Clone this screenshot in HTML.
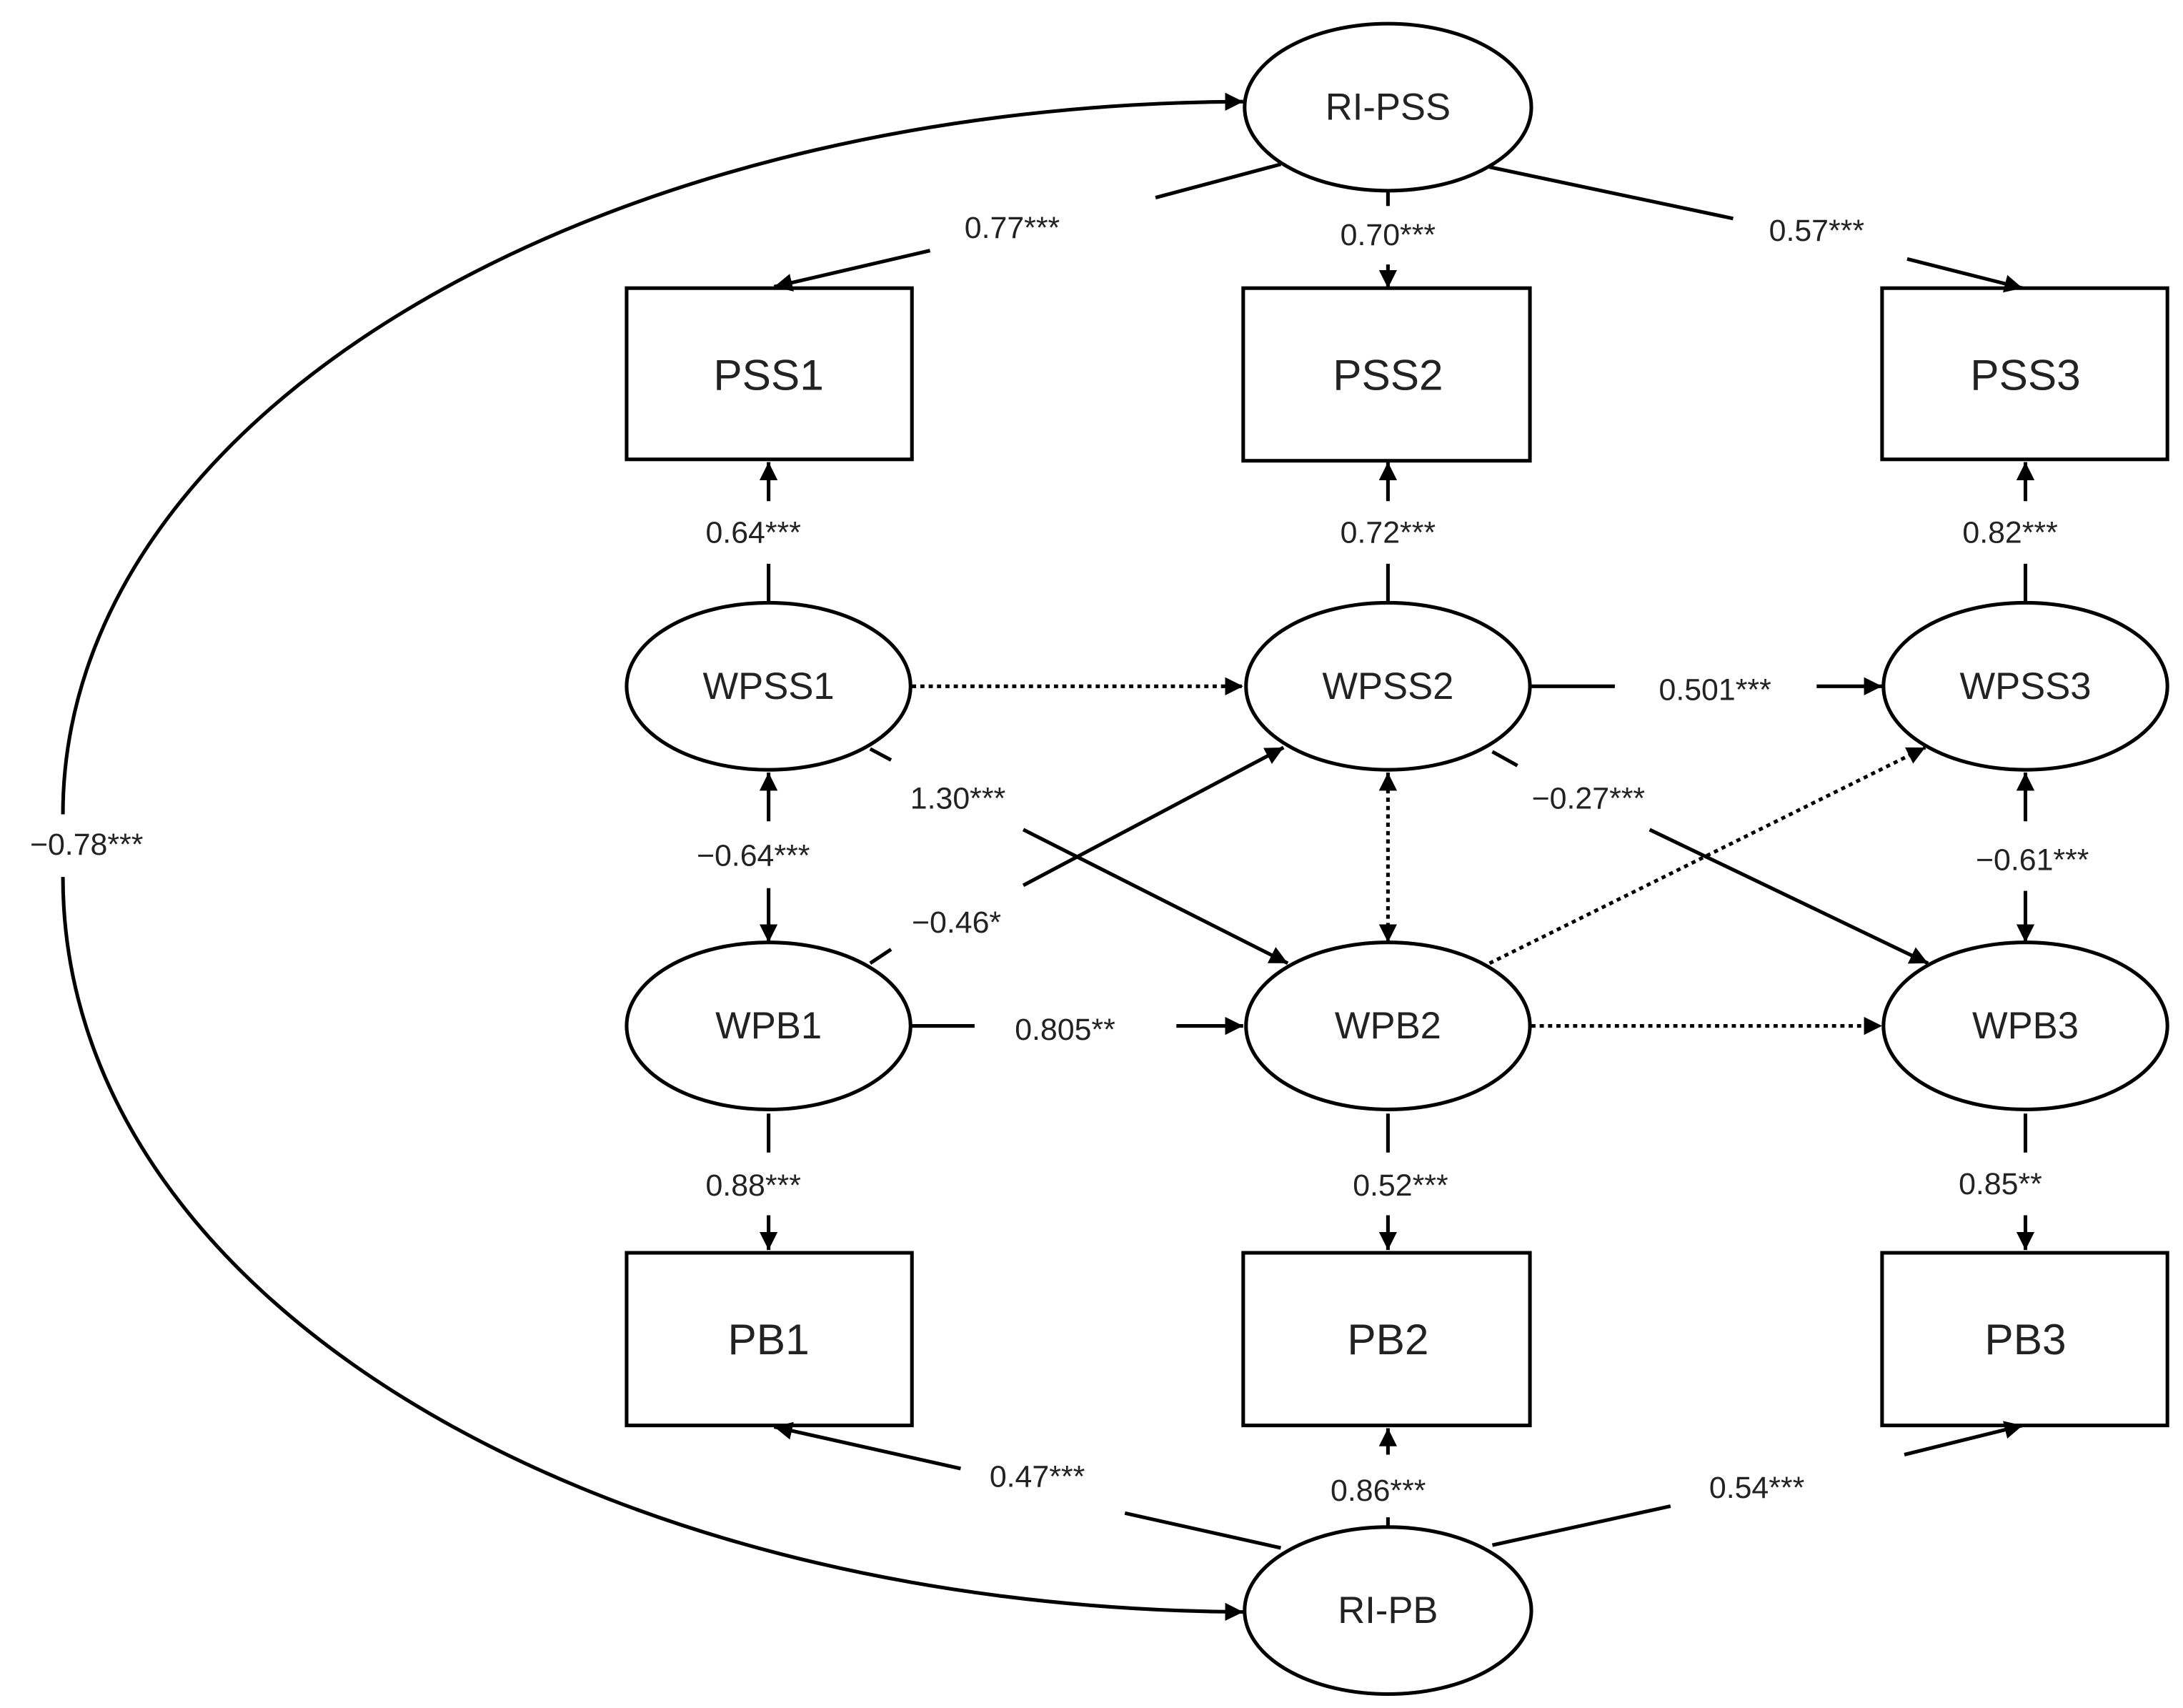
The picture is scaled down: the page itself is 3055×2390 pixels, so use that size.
<!DOCTYPE html>
<html><head><meta charset="utf-8"><style>html,body{margin:0;padding:0;background:#fff}svg{display:block}</style></head>
<body>
<svg width="3055" height="2390" viewBox="0 0 1568 1227" xmlns="http://www.w3.org/2000/svg">
<defs>
<marker id="a" viewBox="0 0 10 10" refX="10" refY="5" markerWidth="5" markerHeight="5" orient="auto-start-reverse" markerUnits="strokeWidth"><path d="M0,0L10,5L0,10z" fill="#000"/></marker>
</defs>
<g fill="#fff" stroke="#000" stroke-width="2.6">
<ellipse cx="997" cy="77" rx="103" ry="60"/>
<ellipse cx="997" cy="1157" rx="103" ry="60"/>
<ellipse cx="552" cy="493" rx="102" ry="60"/>
<ellipse cx="997" cy="493" rx="102" ry="60"/>
<ellipse cx="1455" cy="493" rx="102" ry="60"/>
<ellipse cx="552" cy="737" rx="102" ry="60"/>
<ellipse cx="997" cy="737" rx="102" ry="60"/>
<ellipse cx="1455" cy="737" rx="102" ry="60"/>
<rect x="450" y="207" width="205" height="123"/>
<rect x="893" y="207" width="206" height="124"/>
<rect x="1352" y="207" width="205" height="123"/>
<rect x="450" y="900" width="205" height="124"/>
<rect x="893" y="900" width="206" height="124"/>
<rect x="1352" y="900" width="205" height="124"/>
</g>
<g fill="none" stroke="#000" stroke-width="2.6">
<!-- big curve -->
<path d="M45,585 C45,300 420,75 893,73" marker-end="url(#a)"/>
<path d="M45,630 C45,930 420,1155 893,1158" marker-end="url(#a)"/>
<!-- RI-PSS -->
<path d="M920,118L830,142"/><path d="M668,180L556,206" marker-end="url(#a)"/>
<path d="M997,138L997,148"/><path d="M997,190L997,207" marker-end="url(#a)"/>
<path d="M1070,120L1245,157"/><path d="M1370,186L1453,207" marker-end="url(#a)"/>
<!-- W to PSS -->
<path d="M552,432L552,405"/><path d="M552,360L552,332" marker-end="url(#a)"/>
<path d="M997,432L997,405"/><path d="M997,360L997,332" marker-end="url(#a)"/>
<path d="M1455,432L1455,405"/><path d="M1455,360L1455,332" marker-end="url(#a)"/>
<!-- horizontal -->
<path d="M655,493L893,493" stroke-dasharray="3,3" marker-end="url(#a)"/>
<path d="M1100,493L1160,493"/><path d="M1305,493L1352,493" marker-end="url(#a)"/>
<path d="M655,737L700,737"/><path d="M845,737L893,737" marker-end="url(#a)"/>
<path d="M1100,737L1352,737" stroke-dasharray="3,3" marker-end="url(#a)"/>
<!-- cross -->
<path d="M625,538L640,546"/><path d="M735,596L925,692" marker-end="url(#a)"/>
<path d="M625,692L640,682"/><path d="M735,636L922,537" marker-end="url(#a)"/>
<path d="M1072,540L1090,550"/><path d="M1185,596L1385,692" marker-end="url(#a)"/>
<path d="M1070,692L1383,537" stroke-dasharray="3,3" marker-end="url(#a)"/>
<!-- vertical covariances -->
<path d="M552,590L552,555" marker-end="url(#a)"/><path d="M552,638L552,677" marker-end="url(#a)"/>
<path d="M997,555L997,677" stroke-dasharray="3,3" marker-start="url(#a)" marker-end="url(#a)"/>
<path d="M1455,590L1455,555" marker-end="url(#a)"/><path d="M1455,640L1455,677" marker-end="url(#a)"/>
<!-- W to PB -->
<path d="M552,800L552,828"/><path d="M552,873L552,898" marker-end="url(#a)"/>
<path d="M997,800L997,828"/><path d="M997,873L997,898" marker-end="url(#a)"/>
<path d="M1455,800L1455,828"/><path d="M1455,873L1455,898" marker-end="url(#a)"/>
<!-- RI-PB -->
<path d="M920,1112L808,1087"/><path d="M690,1055L556,1025" marker-end="url(#a)"/>
<path d="M997,1097L997,1090"/><path d="M997,1045L997,1026" marker-end="url(#a)"/>
<path d="M1072,1110L1200,1082"/><path d="M1368,1045L1453,1024" marker-end="url(#a)"/>
</g>
<g font-family="Liberation Sans, sans-serif" text-anchor="middle" fill="#222">
<g font-size="27">
<text x="997" y="86">RI-PSS</text><text x="997" y="1166">RI-PB</text>
<text x="552" y="502">WPSS1</text><text x="997" y="502">WPSS2</text><text x="1455" y="502">WPSS3</text>
<text x="552" y="746">WPB1</text><text x="997" y="746">WPB2</text><text x="1455" y="746">WPB3</text>
</g>
<g font-size="31">
<text x="552" y="280">PSS1</text><text x="997" y="280">PSS2</text><text x="1455" y="280">PSS3</text>
<text x="552" y="973">PB1</text><text x="997" y="973">PB2</text><text x="1455" y="973">PB3</text>
</g>
<g font-size="22">
<text x="727" y="171">0.77***</text><text x="997" y="176">0.70***</text><text x="1305" y="173">0.57***</text>
<text x="541" y="390">0.64***</text><text x="997" y="390">0.72***</text><text x="1444" y="390">0.82***</text>
<text x="1232" y="503">0.501***</text><text x="688" y="581">1.30***</text><text x="687" y="670">−0.46*</text>
<text x="541" y="622">−0.64***</text><text x="1141" y="581">−0.27***</text><text x="1460" y="625">−0.61***</text>
<text x="765" y="747">0.805**</text><text x="62" y="614">−0.78***</text>
<text x="541" y="859">0.88***</text><text x="1006" y="859">0.52***</text><text x="1437" y="858">0.85**</text>
<text x="745" y="1068">0.47***</text><text x="990" y="1078">0.86***</text><text x="1262" y="1076">0.54***</text>
</g>
</g>
</svg>
</body></html>
